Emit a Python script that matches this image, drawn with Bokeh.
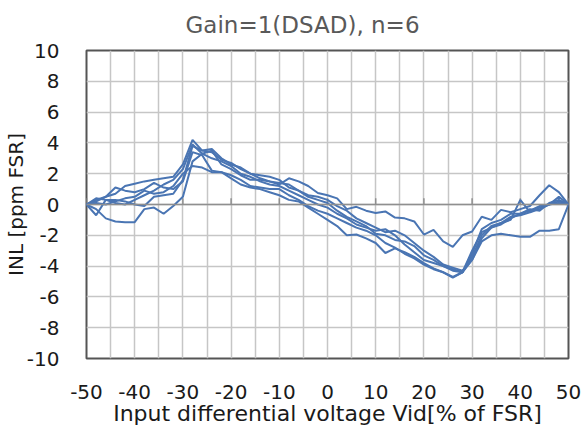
from bokeh.plotting import figure
from bokeh.models import FixedTicker, Span, ColumnDataSource
from bokeh.embed import file_html
from bokeh.resources import INLINE

# ---- data ----
x_vid = [-50, -48, -46, -44, -42, -40, -38, -36, -34, -32, -30, -28, -26, -24, -22, -20,
         -18, -16, -14, -12, -10, -8, -6, -4, -2, 0, 2, 4, 6, 8, 10, 12, 14, 16, 18, 20,
         22, 24, 26, 28, 30, 32, 34, 36, 38, 40, 42, 44, 46, 48, 50]

inl_1 = [0, 0.3, 0.5, 0.7, 1.2, 1.35, 1.5, 1.6, 1.7, 1.8, 2.6, 4.2, 3.5, 3.4, 2.9, 2.7,
         2.3, 2.0, 1.9, 1.8, 1.6, 1.1, 0.9, 0.6, 0.5, 0.3, -0.1, -0.4, -0.9, -1.2, -1.5,
         -1.8, -1.7, -2.0, -2.5, -3.0, -3.4, -3.9, -4.1, -4.3, -3.6, -2.2, -1.5, -1.2,
         -1.0, 0.3, -0.5, -0.3, 0.0, 0.2, 0]
inl_2 = [0, -0.3, -0.9, -1.1, -1.15, -1.15, -0.3, -0.2, -0.6, -0.1, 0.5, 2.8, 3.3, 3.5,
         2.6, 2.3, 1.9, 1.6, 1.6, 1.5, 1.3, 1.7, 1.5, 1.2, 0.75, 0.6, 0.4, -0.3, -0.15,
         -0.4, -0.55, -0.45, -0.85, -0.9, -1.1, -1.95, -1.65, -2.4, -2.75, -2.0, -1.75,
         -0.8, -1.0, -0.35, -0.5, -0.3, -0.1, 0.6, 1.25, 0.8, 0]
inl_3 = [0, -0.7, 0.3, 0.3, 0.2, 0.0, -0.1, 0.5, 0.6, 0.7, 1.6, 3.8, 3.5, 3.6, 3.0, 2.6,
         2.4, 2.0, 1.7, 1.5, 1.4, 1.3, 0.9, 0.5, 0.3, 0.1, -0.4, -0.8, -1.1, -1.4, -1.9,
         -2.0, -2.3, -2.4, -2.7, -3.3, -3.6, -4.0, -4.2, -4.4, -3.0, -1.8, -1.5, -1.3,
         -0.9, -0.6, -0.4, -0.1, 0.0, 0.5, 0]
inl_4 = [0, 0.1, 0.0, 0.2, 0.4, 0.5, 0.9, 0.7, 0.8, 1.2, 2.0, 2.5, 2.4, 2.1, 2.1, 1.9,
         1.6, 1.2, 1.1, 1.0, 1.0, 0.6, 0.3, -0.1, -0.4, -0.6, -0.9, -1.2, -1.5, -1.7,
         -2.0, -2.5, -2.8, -3.2, -3.5, -3.9, -4.2, -4.4, -4.7, -4.4, -3.2, -1.6, -1.2,
         -1.0, -0.6, -0.6, -0.3, -0.4, 0.1, 0.3, 0]
inl_5 = [0, 0.4, 0.3, 0.1, 0.0, 0.3, 0.6, 0.9, 1.3, 1.6, 2.3, 3.9, 3.3, 3.0, 2.8, 2.5,
         2.0, 1.8, 1.5, 1.3, 1.2, 0.9, 0.6, 0.3, 0.0, -0.2, -0.6, -0.9, -1.3, -1.5,
         -1.7, -1.6, -2.0, -2.6, -3.1, -3.6, -3.8, -4.0, -4.3, -4.4, -3.6, -2.4, -2.0,
         -1.9, -2.0, -2.1, -2.1, -1.7, -1.7, -1.6, 0]
inl_6 = [0, 0.2, 0.5, 1.1, 0.9, 0.8, 1.0, 1.4, 1.1, 1.0, 1.5, 3.4, 3.2, 2.2, 2.1, 1.7,
         1.3, 1.1, 1.0, 0.8, 0.6, 0.3, 0.2, -0.2, -0.6, -1.0, -1.4, -2.0, -1.95, -2.2,
         -2.5, -3.15, -2.85, -3.1, -3.4, -3.8, -4.15, -4.4, -4.75, -4.4, -3.4, -2.0,
         -1.4, -1.2, -0.8, -0.7, -0.5, -0.2, 0.0, 0.1, 0]

x_tick_values = [-50, -40, -30, -20, -10, 0, 10, 20, 30, 40, 50]
x_tick_labels = ["-50", "-40", "-30", "-20", "-10", "0", "10", "20", "30", "40", "50"]
y_tick_values = [-10, -8, -6, -4, -2, 0, 2, 4, 6, 8, 10]
y_tick_labels = ["-10", "-8", "-6", "-4", "-2", "0", "2", "4", "6", "8", "10"]
x_grid_values = [-50, -45, -40, -35, -30, -25, -20, -15, -10, -5, 0, 5, 10, 15, 20,
                 25, 30, 35, 40, 45, 50]

title_text = "Gain=1(DSAD), n=6"
x_label = "Input differential voltage Vid[% of FSR]"
y_label = "INL [ppm FSR]"

FONT = "DejaVu Sans"
LINE_COLOR = "#4A75B3"

p = figure(frame_width=482, frame_height=308, x_range=(-50, 50), y_range=(-10, 10),
           output_backend="svg", toolbar_location=None,
           min_border_left=84, min_border_right=16, min_border_top=50,
           min_border_bottom=74, title=title_text)

p.title.text_font = FONT
p.title.text_font_size = "23px"
p.title.text_font_style = "normal"
p.title.text_color = "#595959"
p.title.align = "left"
p.title.vertical_align = "top"
p.title.offset = 99
p.title.standoff = 21

# grid
p.xgrid.ticker = FixedTicker(ticks=x_grid_values)
p.ygrid.ticker = FixedTicker(ticks=y_tick_values)
for g in (p.xgrid, p.ygrid):
    g.grid_line_color = "#c6c6c6"
    g.grid_line_width = 1.5

p.outline_line_color = "#555555"
p.outline_line_width = 2

# axes
for ax in (p.xaxis, p.yaxis):
    ax.axis_line_color = None
    ax.major_tick_line_color = None
    ax.minor_tick_line_color = None
    ax.major_tick_out = 0
    ax.major_tick_in = 0
    ax.minor_tick_out = 0
    ax.minor_tick_in = 0
    ax.major_label_text_font = FONT
    ax.major_label_text_font_size = "20px"
    ax.major_label_text_color = "#1a1a1a"
    ax.axis_label_text_font = FONT
    ax.axis_label_text_font_style = "normal"
    ax.axis_label_text_color = "#1a1a1a"

p.xaxis.axis_label_text_font_size = "22px"
p.yaxis.axis_label_text_font_size = "20px"
p.xaxis.ticker = FixedTicker(ticks=x_tick_values)
p.yaxis.ticker = FixedTicker(ticks=y_tick_values)
p.xaxis.major_label_overrides = dict(zip(x_tick_values, x_tick_labels))
p.yaxis.major_label_overrides = dict(zip(y_tick_values, y_tick_labels))
p.xaxis.axis_label = x_label
p.yaxis.axis_label = y_label
p.xaxis.major_label_standoff = 26
p.xaxis.axis_label_standoff = -1
p.yaxis.major_label_standoff = 27
p.yaxis.axis_label_standoff = -4

# horizontal axis line at zero with small tick marks
p.add_layout(Span(location=0, dimension="width", line_color="#8f8f8f", line_width=1.5))
tick_src = ColumnDataSource(dict(x=x_tick_values,
                                 y0=[0] * len(x_tick_values),
                                 y1=[0.4] * len(x_tick_values)))
p.segment(x0="x", y0="y0", x1="x", y1="y1", source=tick_src,
          line_color="#8f8f8f", line_width=1.5)

for series in (inl_1, inl_2, inl_3, inl_4, inl_5, inl_6):
    p.line(x_vid, series, line_color=LINE_COLOR, line_width=2)

open("out.html", "w").write(file_html(p, INLINE))
